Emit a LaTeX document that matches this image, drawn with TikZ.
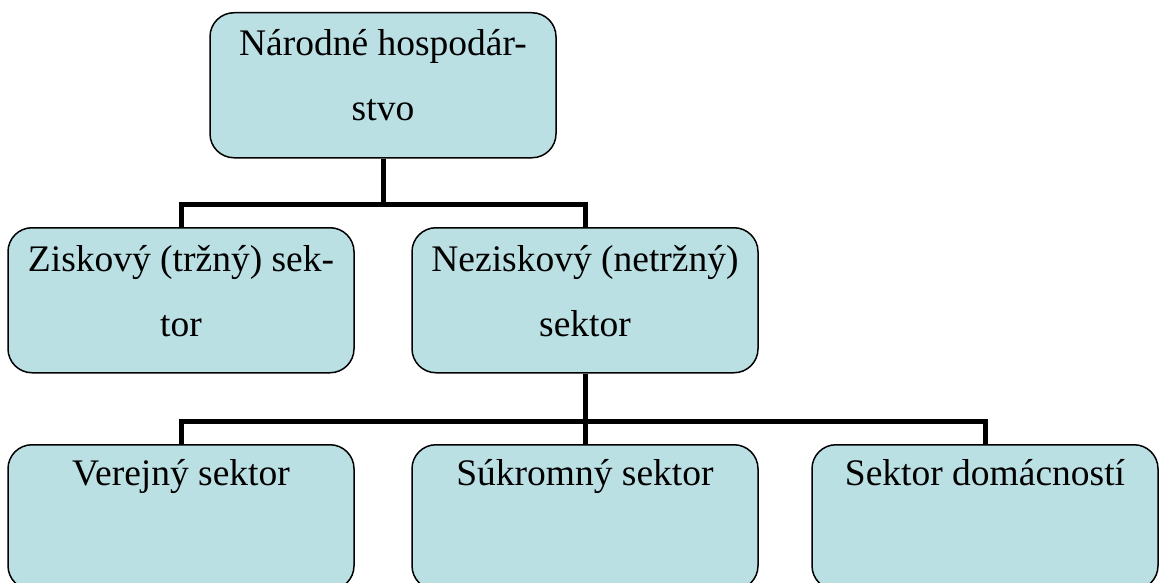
\documentclass[tikz,border=0pt]{standalone}
\usepackage{fontspec}
\setmainfont{Liberation Serif}
\definecolor{boxfill}{RGB}{187,224,228}
\newcommand{\boxtxt}[2]{\parbox[c][145pt][t]{346pt}{\fontsize{37.5}{65}\selectfont\centering\rule{0pt}{#1pt}#2\par}}
\begin{document}
\begin{tikzpicture}[x=1pt,y=-1pt,
  box/.style={draw=black, line width=1.5pt, rounded corners=24pt, fill=boxfill,
    minimum width=346pt, minimum height=145pt, inner sep=0pt, anchor=north},
  conn/.style={draw=black, line width=5pt}]
\useasboundingbox (0,0) rectangle (1159,583);
\clip (0,0) rectangle (1159,583);
\coordinate (bus1) at (383,204.5);
\coordinate (bus2) at (585,421);
\node[box] (top) at (383,12) {\boxtxt{43}{Národné hospodár-\\stvo}};
\node[box] (zisk) at (181,227) {\boxtxt{44}{Ziskový (tržný) sek-\\tor}};
\node[box] (nezisk) at (585,227) {\boxtxt{44}{Neziskový (netržný)\\sektor}};
\node[box] (ver) at (181,444) {\boxtxt{41}{Verejný sektor}};
\node[box] (suk) at (585,444) {\boxtxt{41}{Súkromný sektor}};
\node[box] (dom) at (985,444) {\boxtxt{41}{Sektor domácností}};
\draw[conn] (top.south) -- (bus1);
\draw[conn] (zisk.north) |- (bus1) -| (nezisk.north);
\draw[conn] (nezisk.south) -- (bus2);
\draw[conn] (ver.north) |- (bus2) -| (dom.north);
\draw[conn] (bus2) -- (suk.north);
\end{tikzpicture}
\end{document}
